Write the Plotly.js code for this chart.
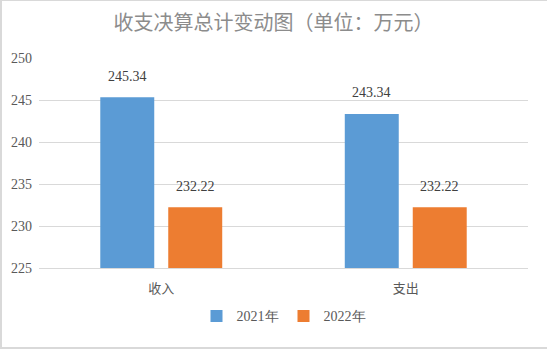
<!DOCTYPE html>
<html>
<head>
<meta charset="utf-8">
<script src="https://cdn.plot.ly/plotly-3.0.1.min.js"></script>
<style>
html,body{margin:0;padding:0;background:#fff;}
#wrap{position:absolute;left:0;top:0;width:545px;height:346px;border:1px solid #d9d9d9;border-left-width:2px;border-bottom-width:2px;}
#chart{position:absolute;left:-2px;top:-1px;width:547px;height:351px;}
</style>
</head>
<body>
<div id="wrap"><div id="chart"></div></div>
<script>
const categories = ['收入', '支出'];
const seriesNames = ['2021年', '2022年'];
const values2021 = [245.34, 243.34];
const values2022 = [232.22, 232.22];
const yTicks = [225, 230, 235, 240, 245, 250];

const colors = ['#5B9BD5', '#ED7D31'];
const cjk = 'Noto Sans CJK SC';
const serif = 'Liberation Serif';
const allValues = [values2021, values2022];

const traces = allValues.map((vals, i) => ({
  type: 'bar',
  name: seriesNames[i],
  x: categories,
  y: vals,
  marker: {color: colors[i]},
  hoverinfo: 'none'
}));

const annotations = [];
allValues.forEach((vals, i) => {
  vals.forEach((v, j) => {
    annotations.push({
      x: categories[j], y: v, xref: 'x', yref: 'y',
      text: v.toFixed(2), showarrow: false,
      xshift: (i === 0 ? -34 : 34), yshift: 21,
      font: {family: serif, size: 14, color: '#404040'}
    });
  });
});

const layout = {
  width: 547, height: 351,
  margin: {l: 39, r: 19, t: 58, b: 83},
  paper_bgcolor: 'rgba(0,0,0,0)',
  plot_bgcolor: '#fff',
  barmode: 'group',
  bargap: 0.444,
  bargroupgap: 0.206,
  title: {
    text: '收支决算总计变动图（单位：万元）',
    x: 0.5, xanchor: 'center', y: 0.935, yanchor: 'middle',
    font: {family: cjk, size: 20, color: '#8c8c8c'}
  },
  xaxis: {
    type: 'category',
    showgrid: false, zeroline: false,
    showline: true, linecolor: '#d9d9d9', linewidth: 1,
    ticks: '', ticklen: 0, ticklabelstandoff: 8,
    tickfont: {family: cjk, size: 13, color: '#595959'},
    fixedrange: true
  },
  yaxis: {
    range: [225, 250],
    tickvals: yTicks,
    ticktext: yTicks.map(String),
    showgrid: true, gridcolor: '#d9d9d9', gridwidth: 1,
    zeroline: false, showline: false, ticks: '',
    ticklabelstandoff: 6,
    tickfont: {family: serif, size: 14, color: '#595959'},
    fixedrange: true
  },
  showlegend: true,
  legend: {
    orientation: 'h', x: 0.5, xanchor: 'center', y: -0.23, yanchor: 'middle',
    font: {family: serif, size: 14, color: '#595959'},
    itemwidth: 30, traceorder: 'normal'
  },
  annotations: annotations
};

Plotly.newPlot('chart', traces, layout, {displayModeBar: false, staticPlot: true});
</script>
</body>
</html>
